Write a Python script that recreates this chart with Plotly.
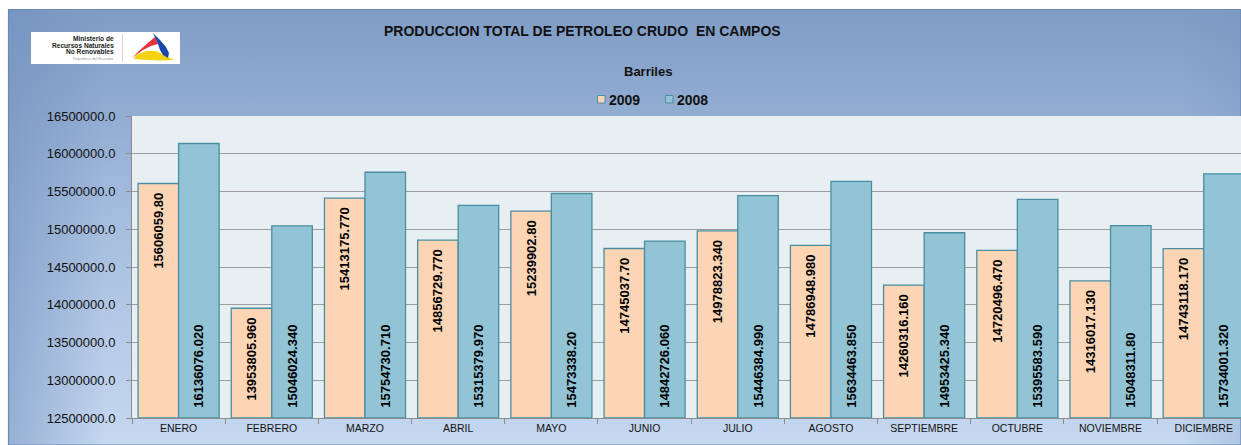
import base64
import plotly.graph_objects as go

# ---------------- data ----------------
months = ["ENERO", "FEBRERO", "MARZO", "ABRIL", "MAYO", "JUNIO", "JULIO",
          "AGOSTO", "SEPTIEMBRE", "OCTUBRE", "NOVIEMBRE", "DICIEMBRE"]
values_2009 = [15606059.80, 13953805.960, 15413175.770, 14856729.770, 15239902.80,
               14745037.70, 14978823.340, 14786948.980, 14260316.160, 14720496.470,
               14316017.130, 14743118.170]
labels_2009 = ["15606059.80", "13953805.960", "15413175.770", "14856729.770", "15239902.80",
               "14745037.70", "14978823.340", "14786948.980", "14260316.160", "14720496.470",
               "14316017.130", "14743118.170"]
values_2008 = [16136076.020, 15046024.340, 15754730.710, 15315379.970, 15473338.20,
               14842726.060, 15446384.990, 15634463.850, 14953425.340, 15395583.590,
               15048311.80, 15734001.320]
labels_2008 = ["16136076.020", "15046024.340", "15754730.710", "15315379.970", "15473338.20",
               "14842726.060", "15446384.990", "15634463.850", "14953425.340", "15395583.590",
               "15048311.80", "15734001.320"]
y_ticks = [12500000, 13000000, 13500000, 14000000, 14500000,
           15000000, 15500000, 16000000, 16500000]
y_tick_text = ["12500000.0", "13000000.0", "13500000.0", "14000000.0", "14500000.0",
               "15000000.0", "15500000.0", "16000000.0", "16500000.0"]
series_names = ["2009", "2008"]
title_text = "PRODUCCION TOTAL DE PETROLEO CRUDO\u00a0 EN CAMPOS"
unit_text = "Barriles"
logo_lines = ["Ministerio de", "Recursos Naturales", "No Renovables"]
logo_sub = "Republica del Ecuador"

# ---------------- styling ----------------
W, H = 1241, 445
ML, MR, MT, MB = 132, 0, 116, 27
PX0, PX1 = ML, W - MR
PY0, PY1 = MT, H - MB
FONT = "Liberation Sans, Arial, sans-serif"
C2009 = "#fcd5b5"
C2008 = "#92c4d5"
EDGE = "#4a8ea2"
TXT = "#111111"
Y_MIN, Y_MAX = y_ticks[0], y_ticks[-1]
PAD_END = "\u00a0\u2009"        # spacing inside the bar top (2009 labels)
PAD_START = "\u00a0\u00a0"      # spacing above the bar base (2008 labels)


def px(x):
    return (x - PX0) / (PX1 - PX0)


def py(y):
    return (PY1 - y) / (PY1 - PY0)


fig = go.Figure()
# bars start at the axis floor (as in the original), so base = axis minimum
fig.add_trace(go.Bar(
    x=months, y=[v - Y_MIN for v in values_2009], base=Y_MIN,
    name=series_names[0], text=[t + PAD_END for t in labels_2009],
    textposition="inside", insidetextanchor="end", textangle=-90,
    constraintext="none", cliponaxis=True,
    textfont=dict(family=FONT, size=13, color="#000000", weight="bold"),
    marker=dict(color=C2009, line=dict(color=EDGE, width=1.3)),
    showlegend=False, customdata=labels_2009,
    hovertemplate="%{x}<br>%{customdata}<extra>2009</extra>",
))
fig.add_trace(go.Bar(
    x=months, y=[v - Y_MIN for v in values_2008], base=Y_MIN,
    name=series_names[1], text=[PAD_START + t for t in labels_2008],
    textposition="inside", insidetextanchor="start", textangle=-90,
    constraintext="none", cliponaxis=True,
    textfont=dict(family=FONT, size=13, color="#000000", weight="bold"),
    marker=dict(color=C2008, line=dict(color=EDGE, width=1.3)),
    showlegend=False, customdata=labels_2008,
    hovertemplate="%{x}<br>%{customdata}<extra>2008</extra>",
))

# background gradient as an SVG image
svg = (
    '<svg xmlns="http://www.w3.org/2000/svg" width="100" height="100" '
    'viewBox="0 0 100 100" preserveAspectRatio="none">'
    '<defs>'
    '<linearGradient id="v" x1="0" y1="0" x2="0" y2="1">'
    '<stop offset="0" stop-color="#7f9cc5"/>'
    '<stop offset="0.45" stop-color="#a3bbdd"/>'
    '<stop offset="1" stop-color="#c6d8f0"/>'
    '</linearGradient>'
    '<linearGradient id="h" x1="0" y1="0" x2="1" y2="0">'
    '<stop offset="0" stop-color="#6f8fbd" stop-opacity="0.55"/>'
    '<stop offset="0.08" stop-color="#6f8fbd" stop-opacity="0"/>'
    '<stop offset="0.95" stop-color="#6f8fbd" stop-opacity="0"/>'
    '<stop offset="1" stop-color="#6f8fbd" stop-opacity="0.25"/>'
    '</linearGradient>'
    '</defs>'
    '<rect width="100" height="100" fill="url(#v)"/>'
    '<rect width="100" height="100" fill="url(#h)"/>'
    '</svg>'
)
src = "data:image/svg+xml;base64," + base64.b64encode(svg.encode()).decode()

shapes = []
# frame border
shapes.append(dict(type="rect", xref="paper", yref="paper", layer="below",
                   x0=px(8.5), x1=px(1241), y0=py(445), y1=py(9.5),
                   line=dict(color="#6c89b3", width=1.2), fillcolor="rgba(0,0,0,0)"))
# plot background
shapes.append(dict(type="rect", xref="paper", yref="paper", layer="below",
                   x0=0, x1=1, y0=0, y1=1, line=dict(width=0), fillcolor="#e8eff3"))
# logo box
shapes.append(dict(type="rect", xref="paper", yref="paper", layer="above",
                   x0=px(31), x1=px(180), y0=py(64), y1=py(32),
                   line=dict(width=0), fillcolor="#ffffff"))
shapes.append(dict(type="line", xref="paper", yref="paper", layer="above",
                   x0=px(122.5), x1=px(122.5), y0=py(62), y1=py(34),
                   line=dict(color="#d4d4d4", width=1)))


def poly(pts):
    return "M " + " L ".join(f"{px(a):.5f},{py(b):.5f}" for a, b in pts) + " Z"


# logo swoosh
shapes.append(dict(type="path", xref="paper", yref="paper", layer="above",
                   path=poly([(132, 58), (141, 49), (149, 42), (155, 37), (158, 44),
                              (151, 46), (143, 50), (136, 55)]),
                   fillcolor="#e8323c", line=dict(width=0)))
shapes.append(dict(type="path", xref="paper", yref="paper", layer="above",
                   path=poly([(136, 55), (146, 51), (156, 51), (164, 55), (174, 60),
                              (160, 60.5), (147, 60), (134, 59)]),
                   fillcolor="#f5d312", line=dict(width=0)))
shapes.append(dict(type="path", xref="paper", yref="paper", layer="above",
                   path=poly([(153, 33), (160, 40), (166, 47), (169, 53), (168, 58),
                              (163, 55), (160, 50), (158, 44)]),
                   fillcolor="#1b47a8", line=dict(width=0)))
# legend swatches
shapes.append(dict(type="rect", xref="paper", yref="paper", layer="above",
                   x0=px(597.5), x1=px(605), y0=py(103), y1=py(95.5),
                   fillcolor=C2009, line=dict(color=EDGE, width=1)))
shapes.append(dict(type="rect", xref="paper", yref="paper", layer="above",
                   x0=px(665.5), x1=px(673), y0=py(103), y1=py(95.5),
                   fillcolor=C2008, line=dict(color=EDGE, width=1)))

annotations = []


def ann(text, x, y, size, bold=True, xanchor="center", color=TXT):
    annotations.append(dict(
        text=text, x=px(x), y=py(y), xref="paper", yref="paper",
        xanchor=xanchor, yanchor="middle", showarrow=False, borderpad=0,
        font=dict(family=FONT, size=size, color=color,
                  weight="bold" if bold else "normal"),
    ))


ann(title_text, 582.5, 31, 14)
ann(unit_text, 648, 72, 13)
ann(series_names[0], 607.5, 99.5, 14, xanchor="left")
ann(series_names[1], 675.5, 99.5, 14, xanchor="left")
for i, line in enumerate(logo_lines):
    ann(line, 114.5, 39 + 6.3 * i, 6.6, xanchor="right", color="#222222")
ann(logo_sub, 114.5, 58.3, 4, bold=False, xanchor="right", color="#9a9a9a")

fig.update_layout(
    width=W, height=H, autosize=False,
    margin=dict(l=ML, r=MR, t=MT, b=MB, pad=0),
    paper_bgcolor="#ffffff", plot_bgcolor="#e8eff3",
    barmode="group", bargap=0.13, bargroupgap=0,
    font=dict(family=FONT, color=TXT),
    images=[dict(source=src, xref="paper", yref="paper",
                 x=px(8), y=py(9), sizex=px(1241) - px(8), sizey=py(9) - py(445),
                 xanchor="left", yanchor="top", sizing="stretch", layer="below")],
    shapes=shapes,
    annotations=annotations,
    xaxis=dict(
        type="category", range=[-0.5, 11.4], tickson="boundaries",
        ticks="outside", ticklen=5, tickcolor="#8c8c8c", tickwidth=1,
        showline=True, linecolor="#8c8c8c", linewidth=1, showgrid=False,
        tickfont=dict(family=FONT, size=10.5, color=TXT), fixedrange=True,
    ),
    yaxis=dict(
        range=[Y_MIN, Y_MAX], tickvals=y_ticks, ticktext=y_tick_text,
        ticks="outside", ticklen=5, tickcolor="#8c8c8c", tickwidth=1,
        showline=True, linecolor="#8c8c8c", linewidth=1,
        showgrid=True, gridcolor="#9c9c9c", gridwidth=1, zeroline=False,
        tickfont=dict(family=FONT, size=13, color=TXT), ticklabelstandoff=8,
        fixedrange=True,
    ),
)

fig.write_html(
    "out.html",
    config={"displayModeBar": False},
    post_script="document.body.style.margin='0';document.body.style.overflow='hidden';",
)
